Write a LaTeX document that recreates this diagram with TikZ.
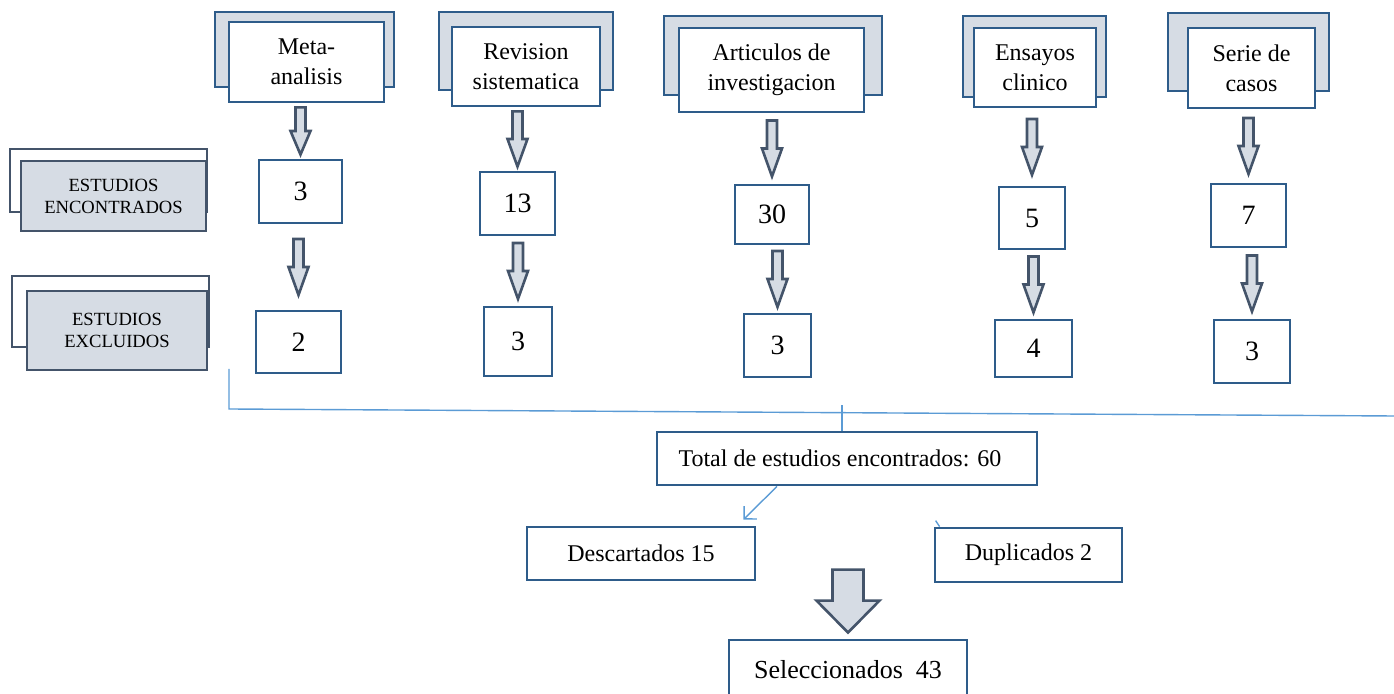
\documentclass[tikz,border=0pt]{standalone}
\usepackage{fontspec}
\setmainfont{Liberation Serif}
\usetikzlibrary{calc,arrows.meta}

\definecolor{azulborde}{HTML}{2E5C8A}
\definecolor{grisrelleno}{HTML}{D6DCE4}
\definecolor{grisborde}{HTML}{44546A}
\definecolor{azullinea}{HTML}{5B9BD5}

\tikzset{
    tam/.style 2 args={minimum width=#1*0.5pt, minimum height=#2*0.5pt},
    caja/.style={draw=azulborde, line width=1.4pt, fill=white, inner sep=0pt, align=center, font=\fontsize{12}{15}\selectfont},
    fondo/.style={draw=azulborde, line width=1.4pt, fill=grisrelleno, inner sep=0pt},
    numero/.style={caja, font=\fontsize{14}{16}\selectfont},
    etiqueta/.style={draw=grisborde, line width=1.4pt, fill=grisrelleno, inner sep=0pt, align=center, font=\fontsize{9.3}{11}\selectfont},
    etiquetafondo/.style={draw=grisborde, line width=1.4pt, fill=white, inner sep=0pt},
    flechabloque/.style={draw=grisborde, line width=1.3pt, fill=grisrelleno, line join=miter},
    linea/.style={draw=azullinea, line width=0.7pt}
}

% flecha gruesa entre dos cajas
\newcommand{\flecha}[2]{%
    \filldraw[flechabloque] let \p1=(#1.south), \p2=(#2.north), \n1={(\y1+\y2)/2},
            \n2={min(14,(\y1-\y2)/2-2)} in
        (\x2-2.5pt,\n1+\n2) -- (\x2+2.5pt,\n1+\n2) -- (\x2+2.5pt,\n1) -- (\x2+5pt,\n1)
        -- (\x2,\n1-\n2) -- (\x2-5pt,\n1) -- (\x2-2.5pt,\n1) -- cycle;}

\begin{document}
\begin{tikzpicture}[x=0.5pt,y=-0.5pt]
            % \draw[help lines, color=gray!30, dashed] (0,0) grid[step=50] (1394,694);
            \useasboundingbox (0,0) rectangle (1394,694);

            \foreach \n/\x/\y/\w/\h/\xf/\yf/\wf/\hf/\t in {
                    meta/306.5/62/155/80/304.5/49.5/179/75/Meta-\\analisis,
                    rev/526/66.5/148/79/526/51/174/78/Revision\\sistematica,
                    art/771.5/70/185/84/773/55.5/218/79/Articulos de\\investigacion,
                    ens/1035/67.5/122/79/1034.5/56.5/143/81/Ensayos\\clinico,
                    serie/1251.5/68/127/80/1248.5/52/161/78/Serie de\\casos}
            {
                \node[fondo, tam={\wf}{\hf}] (\n-fondo) at (\xf,\yf) {};
                \node[caja, tam={\w}{\h}] (\n) at (\x,\y) {\t};
            }

            \node[etiquetafondo, tam={197}{63}] (enc-fondo) at (108.5,180.5) {};
            \node[etiqueta, tam={185}{70}] (enc) at (113.5,196) {ESTUDIOS\\ENCONTRADOS};
            \node[etiquetafondo, tam={197}{71}] (exc-fondo) at (110.5,311.5) {};
            \node[etiqueta, tam={180}{79}] (exc) at (117,330.5) {ESTUDIOS\\EXCLUIDOS};

            \foreach \n/\x/\y/\w/\h/\t in {c1a/300.5/191.5/83/63/3, c1b/298.5/342/85/62/2,
                    c2a/517.5/203.5/75/63/13, c2b/518/341.5/68/69/3,
                    c3a/772/214.5/74/59/30, c3b/777.5/345.5/67/63/3,
                    c4a/1032/218/66/62/5, c4b/1033.5/348.5/77/57/4,
                    c5a/1248.5/215.5/75/63/7, c5b/1252/351.5/76/63/3}
                \node[numero, tam={\w}{\h}] (\n) at (\x,\y) {\t};

            \foreach \a/\b in {meta/c1a, c1a/c1b, rev/c2a, c2a/c2b, art/c3a, c3a/c3b,
                    ens/c4a, c4a/c4b, serie/c5a, c5a/c5b}
                \flecha{\a}{\b};

            \coordinate (inicio) at (229,369);
            \coordinate (esquina) at (229,409);
            \coordinate (derecha) at (1394,416);
            \draw[linea] (inicio) -- (esquina) -- (derecha);

            \node[caja, tam={380}{53}] (total) at (847,458.5) {Total de estudios encontrados: 60\hspace*{7pt}};
            \draw[linea] ([xshift=-2.5pt]total.north) -- ++(0,-26);

            \node[caja, tam={228}{53}] (desc) at (641,553.5) {Descartados 15};
            \node[caja, tam={187}{54}] (dup) at (1028.5,555) {Duplicados 2};
            \draw[linea, -{Straight Barb[length=4.5pt,width=9pt]}] ([xshift=-35pt]total.south) -- ([xshift=-6.5pt,yshift=3pt]desc.north east);
            \draw[linea] ([xshift=3pt]dup.north west) -- ++(-4,-6);

            \node[caja, tam={238}{60}, font=\fontsize{13}{15}\selectfont] (sel) at (848,670) {Seleccionados~~43};
            \filldraw[flechabloque] let \p1=(sel.north) in
                (\x1-7.75pt,\y1+34.5pt) -- (\x1+7.75pt,\y1+34.5pt) -- (\x1+7.75pt,\y1+19pt) -- (\x1+15.75pt,\y1+19pt)
                -- (\x1,\y1+3pt) -- (\x1-15.75pt,\y1+19pt) -- (\x1-7.75pt,\y1+19pt) -- cycle;
\end{tikzpicture}
\end{document}
